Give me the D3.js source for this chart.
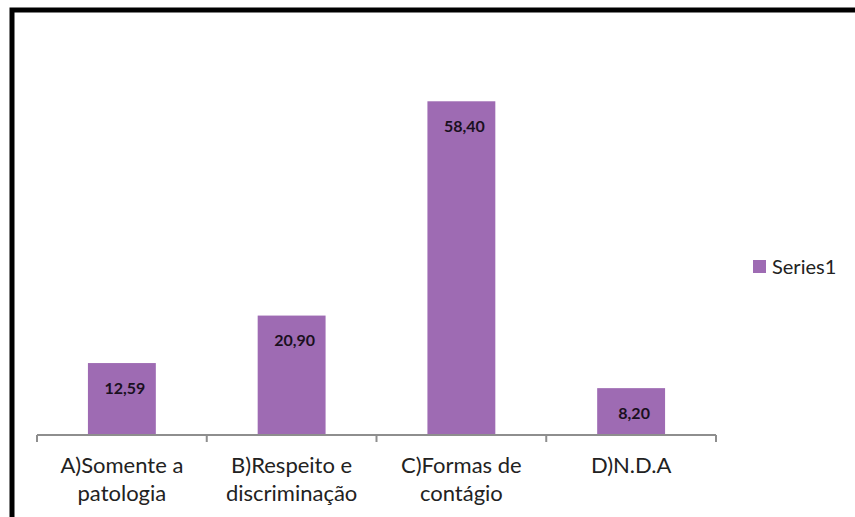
<!DOCTYPE html>
<html>
<head>
<meta charset="utf-8">
<script src="https://cdn.jsdelivr.net/npm/d3@7"></script>
<style>
  html, body { margin: 0; padding: 0; background: #ffffff; }
  svg { display: block; }
</style>
</head>
<body>
<svg id="chart" width="855" height="517"></svg>
<script>
const categories = [["A)Somente a", "patologia"], ["B)Respeito e", "discriminação"], ["C)Formas de", "contágio"], ["D)N.D.A"]];
const values = [12.59, 20.90, 58.40, 8.20];
const valueLabels = ["12,59", "20,90", "58,40", "8,20"];
const seriesName = "Series1";

const svg = d3.select("#chart");
const font = "Lato, 'Open Sans', sans-serif";
const barColor = "#9e6bb3";

// frame
svg.append("rect").attr("x", 12).attr("y", 10).attr("width", 900).attr("height", 600)
  .attr("fill", "#fff").attr("stroke", "#000").attr("stroke-width", 5);

const x = d3.scaleBand().domain(d3.range(values.length)).range([37, 716]).paddingInner(0.6).paddingOuter(0.3);
const y = d3.scaleLinear().domain([0, 70]).range([435, 35]);

// bars
svg.selectAll("rect.bar").data(values).enter().append("rect")
  .attr("class", "bar")
  .attr("x", (d, i) => x(i))
  .attr("y", d => y(d))
  .attr("width", x.bandwidth())
  .attr("height", d => y(0) - y(d))
  .attr("fill", barColor);

// value labels
svg.selectAll("text.val").data(values).enter().append("text")
  .attr("class", "val")
  .attr("x", (d, i) => x(i) + x.bandwidth() / 2 + 3)
  .attr("y", d => y(d) + 25)
  .attr("dy", "0.35em")
  .attr("text-anchor", "middle")
  .attr("font-family", font)
  .attr("font-weight", "bold")
  .attr("font-size", 16)
  .attr("fill", "#1a1020")
  .text((d, i) => valueLabels[i]);

// axis
const step = (716 - 37) / values.length;
const axisG = svg.append("g");
axisG.append("line").attr("x1", 37).attr("x2", 716).attr("y1", 435).attr("y2", 435)
  .attr("stroke", "#8e8e8e").attr("stroke-width", 2);
axisG.selectAll("line.tick").data(d3.range(values.length + 1)).enter().append("line")
  .attr("class", "tick")
  .attr("x1", i => 37 + i * step).attr("x2", i => 37 + i * step)
  .attr("y1", 435).attr("y2", 442)
  .attr("stroke", "#8e8e8e").attr("stroke-width", 2);

// category labels
const catG = svg.selectAll("text.cat").data(categories).enter().append("text")
  .attr("class", "cat")
  .attr("text-anchor", "middle")
  .attr("font-family", font)
  .attr("font-size", 22)
  .attr("fill", "#222");
catG.each(function(lines, i) {
  const t = d3.select(this);
  lines.forEach((ln, k) => {
    t.append("tspan").attr("x", x(i) + x.bandwidth() / 2).attr("y", 473 + k * 28).text(ln);
  });
});

// legend
svg.append("rect").attr("x", 753).attr("y", 260).attr("width", 13).attr("height", 13).attr("fill", barColor);
svg.append("text").attr("x", 772).attr("y", 267).attr("dy", "0.35em")
  .attr("font-family", font).attr("font-size", 20).attr("fill", "#222").text(seriesName);
</script>
</body>
</html>
